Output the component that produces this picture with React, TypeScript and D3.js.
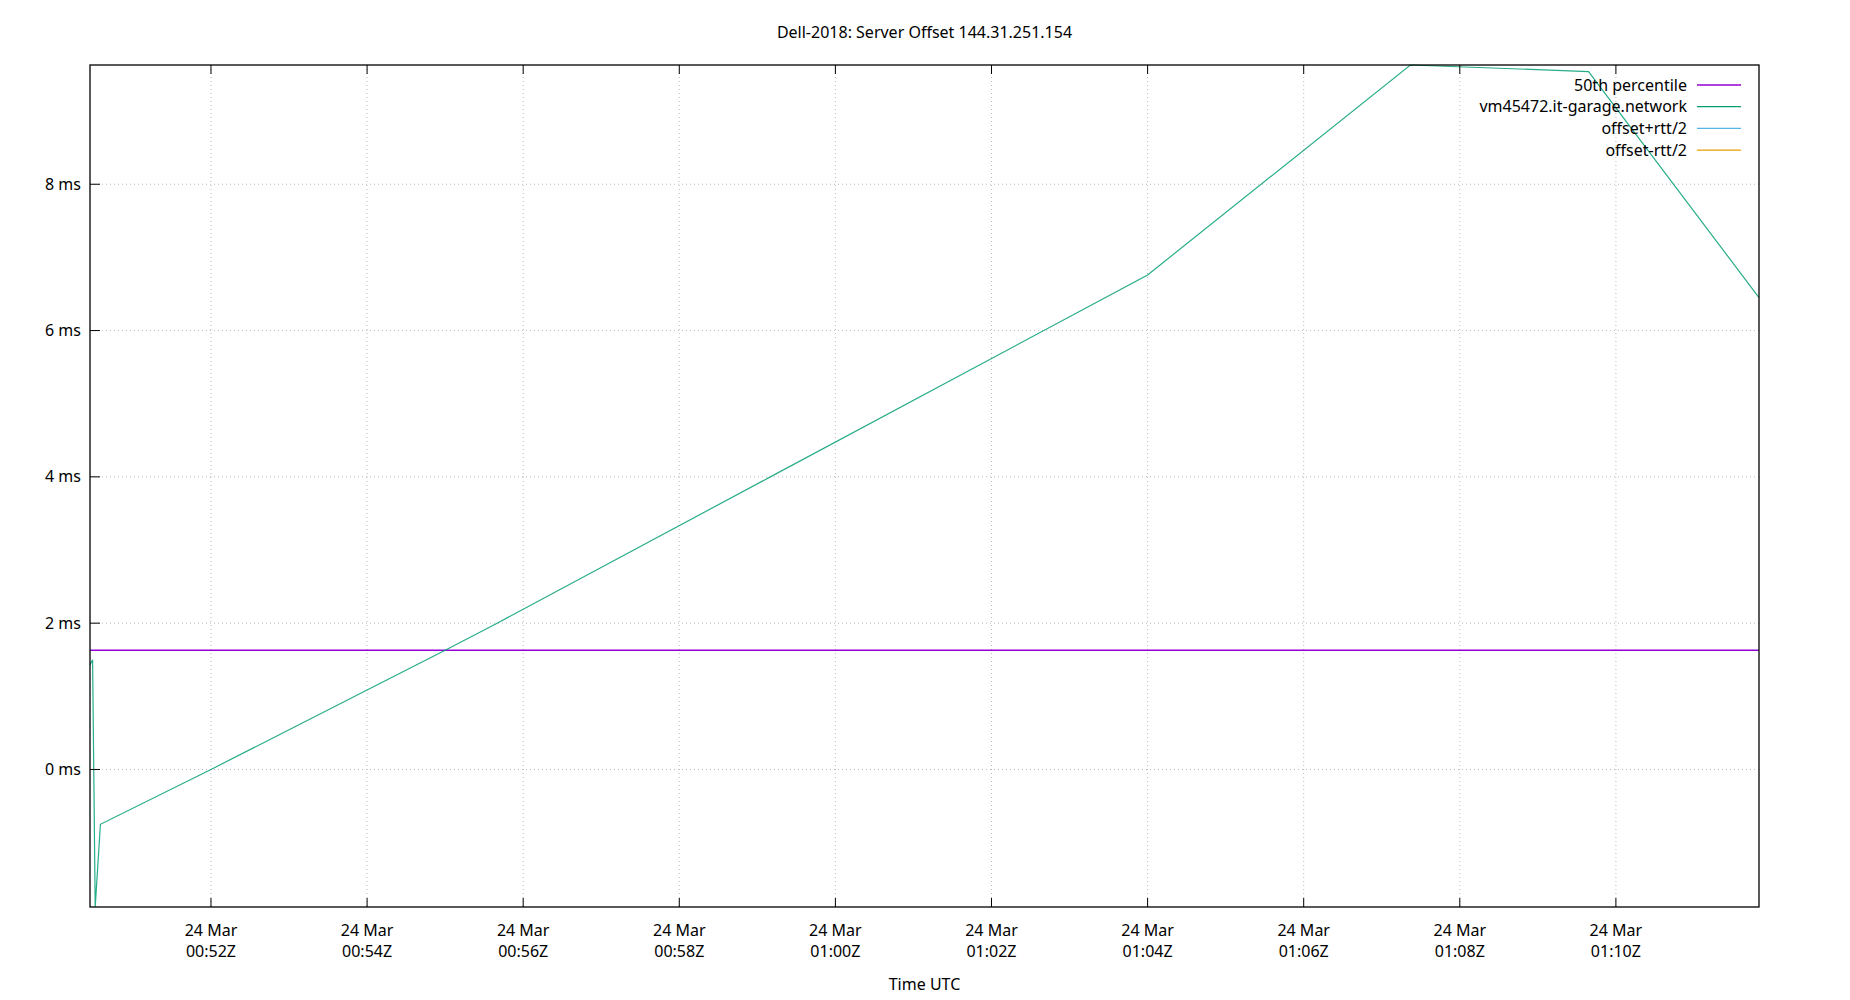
import * as d3 from "d3";

const chartTitle = "Dell-2018: Server Offset 144.31.251.154";
const xLabel = "Time UTC";

// sample times (UTC, 24 Mar) and offsets in ms
const offsetTimes = [
  "00:50:27", "00:50:29", "00:50:31", "00:50:35", "00:52:00", "00:55:00",
  "00:55:40", "00:59:10", "01:04:00", "01:07:22", "01:09:39", "01:11:50",
];
const offsetValues = [1.43, 1.5, -1.88, -0.75, 0.0, 1.63, 2.0, 4.0, 6.76, 9.63, 9.54, 6.45];
const percentile50 = 1.63;

const yTickValues = [0, 2, 4, 6, 8];

const legendItems = [
  { label: "50th percentile", color: "#9400d3" },
  { label: "vm45472.it-garage.network", color: "#009e73" },
  { label: "offset+rtt/2", color: "#56b4e9" },
  { label: "offset-rtt/2", color: "#e69f00" },
];

const toDate = (s: string) => {
  const [h, m, sec] = s.split(":").map(Number);
  return new Date(Date.UTC(2024, 2, 24, h, m, sec));
};

export default function App() {
  const width = 1850;
  const height = 1000;
  const margin = { top: 65, right: 91, bottom: 93, left: 90 };
  const innerW = width - margin.left - margin.right;
  const innerH = height - margin.top - margin.bottom;

  const points = offsetTimes.map((t, i) => ({ t: toDate(t), v: offsetValues[i] }));

  const x = d3
    .scaleUtc()
    .domain(d3.extent(points, (d) => d.t) as [Date, Date])
    .range([0, innerW]);
  const y = d3
    .scaleLinear()
    .domain(d3.extent(points, (d) => d.v) as [number, number])
    .range([innerH, 0]);

  const xTicks = x.ticks(d3.utcMinute.every(2)!);
  const fmtDay = d3.utcFormat("%d %b");
  const fmtTime = d3.utcFormat("%H:%MZ");

  const line = d3
    .line<{ t: Date; v: number }>()
    .x((d) => x(d.t))
    .y((d) => y(d.v));

  const font = "'Noto Sans', sans-serif";

  return (
    <svg
      width={width}
      height={height}
      style={{ position: "absolute", left: 0, top: 0, background: "#fff" }}
      fontFamily={font}
    >
      <text x={margin.left + innerW / 2} y={38} textAnchor="middle" fontSize={16} fill="#000">
        {chartTitle}
      </text>
      <g transform={`translate(${margin.left},${margin.top})`}>
        {/* grid */}
        {xTicks.map((t) => (
          <line key={`gx${+t}`} x1={x(t)} x2={x(t)} y1={0} y2={innerH} stroke="#bbb" strokeDasharray="1 3" />
        ))}
        {yTickValues.map((v) => (
          <line key={`gy${v}`} x1={0} x2={innerW} y1={y(v)} y2={y(v)} stroke="#bbb" strokeDasharray="1 3" />
        ))}

        {/* series */}
        <line x1={0} x2={innerW} y1={y(percentile50)} y2={y(percentile50)} stroke="#9400d3" strokeWidth={1.3} />
        <path d={line(points) ?? ""} fill="none" stroke="#009e73" strokeWidth={1.2} strokeOpacity={0.85} />

        {/* ticks */}
        {xTicks.map((t) => (
          <g key={`tx${+t}`}>
            <line x1={x(t)} x2={x(t)} y1={innerH} y2={innerH - 9} stroke="#000" />
            <line x1={x(t)} x2={x(t)} y1={0} y2={9} stroke="#000" />
            <text x={x(t)} y={innerH + 29} textAnchor="middle" fontSize={16} fill="#000">
              {fmtDay(t)}
            </text>
            <text x={x(t)} y={innerH + 50} textAnchor="middle" fontSize={16} fill="#000">
              {fmtTime(t)}
            </text>
          </g>
        ))}
        {yTickValues.map((v) => (
          <g key={`ty${v}`}>
            <line x1={0} x2={10} y1={y(v)} y2={y(v)} stroke="#000" />
            <text x={-9} y={y(v)} dy="0.35em" textAnchor="end" fontSize={16} fill="#000">
              {`${v} ms`}
            </text>
          </g>
        ))}

        <rect x={0} y={0} width={innerW} height={innerH} fill="none" stroke="#000" strokeWidth={1.3} />

        {/* legend */}
        {legendItems.map((item, i) => (
          <g key={item.label} transform={`translate(0,${20 + i * 21.7})`}>
            <text x={1597} y={0} dy="0.35em" textAnchor="end" fontSize={16} fill="#000">
              {item.label}
            </text>
            <line x1={1607} x2={1651} y1={0} y2={0} stroke={item.color} strokeWidth={1.3} />
          </g>
        ))}
      </g>
      <text x={margin.left + innerW / 2} y={990} textAnchor="middle" fontSize={16} fill="#000">
        {xLabel}
      </text>
    </svg>
  );
}
